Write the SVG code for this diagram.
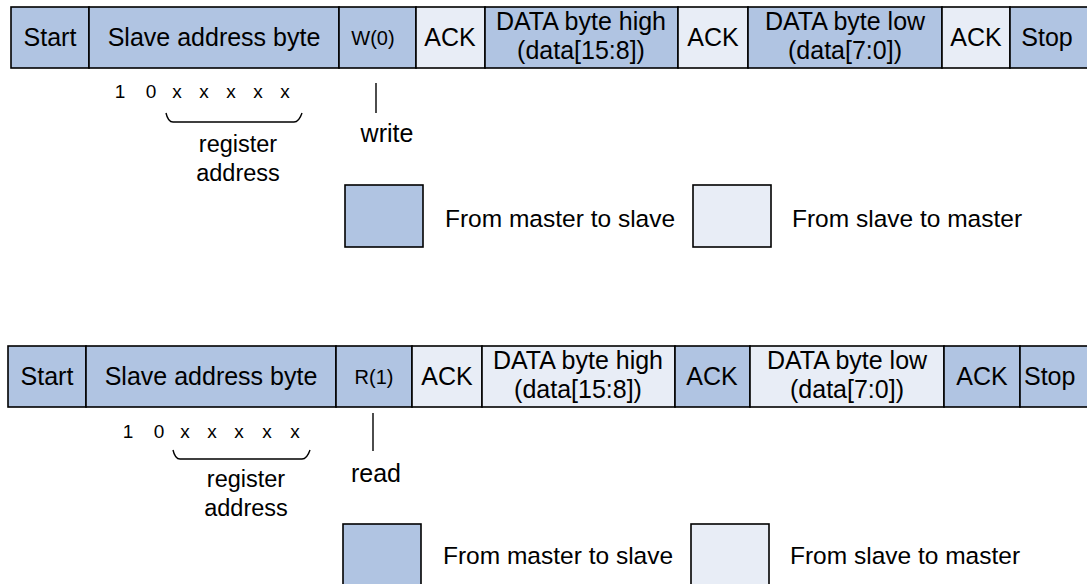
<svg xmlns="http://www.w3.org/2000/svg" width="1087" height="584" viewBox="0 0 1087 584">
<style>
text{font-family:"Liberation Sans",Arial,sans-serif;fill:#000}
.m{fill:#B0C4E2;stroke:#000;stroke-width:1.6}
.s{fill:#E8EDF6;stroke:#000;stroke-width:1.6}
.t{font-size:25px;text-anchor:middle}
.rw{font-size:20px;text-anchor:middle}
.bits{font-size:19px;text-anchor:middle}
.ann{font-size:23.5px;text-anchor:middle}
.big{font-size:25px;text-anchor:middle}
.leg{font-size:24.5px}
.ln{fill:none;stroke:#000;stroke-width:1.4}
</style>
<rect width="1087" height="584" fill="#fff"/>
<!-- Write sequence -->
<g id="write-frame">
<g id="w-start"><rect class="m" x="11" y="7" width="78" height="61"/><text class="t" x="50" y="46">Start</text></g>
<g id="w-addr"><rect class="m" x="89" y="7" width="250" height="61"/><text class="t" x="214" y="46">Slave address byte</text></g>
<g id="w-rw"><rect class="m" x="339" y="7" width="77" height="61"/><text class="rw" x="373" y="45">W(0)</text></g>
<g id="w-ack1"><rect class="s" x="416" y="7" width="69" height="61"/><text class="t" x="450" y="46">ACK</text></g>
<g id="w-dh"><rect class="m" x="485" y="7" width="193" height="61"/><text class="t" x="581" y="30">DATA byte high</text><text class="t" x="581" y="59">(data[15:8])</text></g>
<g id="w-ack2"><rect class="s" x="678" y="7" width="70" height="61"/><text class="t" x="713" y="46">ACK</text></g>
<g id="w-dl"><rect class="m" x="748" y="7" width="194" height="61"/><text class="t" x="845" y="30">DATA byte low</text><text class="t" x="845" y="59">(data[7:0])</text></g>
<g id="w-ack3"><rect class="s" x="942" y="7" width="68" height="61"/><text class="t" x="976" y="46">ACK</text></g>
<g id="w-stop"><rect class="m" x="1010" y="7" width="80" height="61"/><text class="t" x="1047" y="46">Stop</text></g>
</g>
<g id="w-bits"><text class="bits" x="120 151 177 204 231 258 285" y="98">10xxxxx</text></g>
<g id="w-regaddr"><text class="ann" x="238" y="152">register</text><text class="ann" x="238" y="181">address</text></g>
<g id="w-label"><text class="big" x="387" y="142">write</text></g>
<!-- Read sequence -->
<g id="read-frame">
<g id="r-start"><rect class="m" x="8" y="346" width="78" height="61"/><text class="t" x="47" y="385">Start</text></g>
<g id="r-addr"><rect class="m" x="86" y="346" width="250" height="61"/><text class="t" x="211" y="385">Slave address byte</text></g>
<g id="r-rw"><rect class="m" x="336" y="346" width="76" height="61"/><text class="rw" x="374" y="384">R(1)</text></g>
<g id="r-ack1"><rect class="s" x="412" y="346" width="70" height="61"/><text class="t" x="447" y="385">ACK</text></g>
<g id="r-dh"><rect class="s" x="482" y="346" width="193" height="61"/><text class="t" x="578" y="369">DATA byte high</text><text class="t" x="578" y="398">(data[15:8])</text></g>
<g id="r-ack2"><rect class="m" x="675" y="346" width="75" height="61"/><text class="t" x="712" y="385">ACK</text></g>
<g id="r-dl"><rect class="s" x="750" y="346" width="194" height="61"/><text class="t" x="847" y="369">DATA byte low</text><text class="t" x="847" y="398">(data[7:0])</text></g>
<g id="r-ack3"><rect class="m" x="944" y="346" width="76" height="61"/><text class="t" x="982" y="385">ACK</text></g>
<g id="r-stop"><rect class="m" x="1020" y="346" width="70" height="61"/><text class="t" x="1024" y="385" style="text-anchor:start">Stop</text></g>
</g>
<g id="r-bits"><text class="bits" x="128 159 185 212 239 267 295" y="438">10xxxxx</text></g>
<g id="r-regaddr"><text class="ann" x="246" y="487">register</text><text class="ann" x="246" y="516">address</text></g>
<g id="r-label"><text class="big" x="376" y="482">read</text></g>
<!-- Connectors -->
<g id="connectors">
<path class="ln" d="M166,113 Q168,122 173,122 L294,122 Q299,122 302,113"/>
<line class="ln" x1="376" y1="83" x2="376" y2="113"/>
<path class="ln" d="M173,450 Q175,459 180,459 L302,459 Q307,459 310,450"/>
<line class="ln" x1="373" y1="413" x2="373" y2="451"/>
</g>
<!-- Legends -->
<g id="legend-top">
<rect class="m" x="345" y="185" width="78" height="62"/><text class="leg" x="445" y="227">From master to slave</text>
<rect class="s" x="693" y="185" width="78" height="62"/><text class="leg" x="792" y="227">From slave to master</text>
</g>
<g id="legend-bottom">
<rect class="m" x="343" y="524" width="78" height="62"/><text class="leg" x="443" y="564">From master to slave</text>
<rect class="s" x="691" y="524" width="78" height="62"/><text class="leg" x="790" y="564">From slave to master</text>
</g>
</svg>
